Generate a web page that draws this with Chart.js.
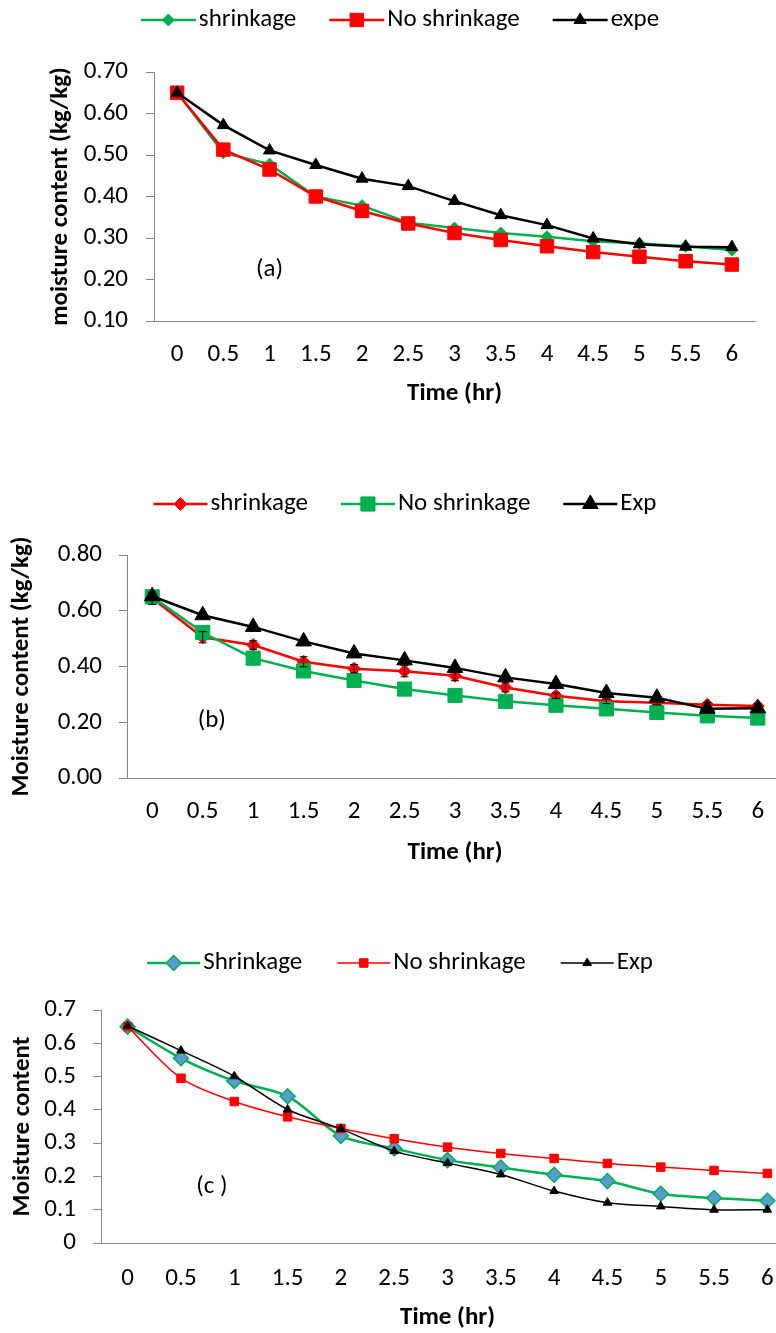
<!DOCTYPE html>
<html lang="en">
<head>
<meta charset="UTF-8">
<title>Moisture content vs drying time</title>
<script src="https://cdn.jsdelivr.net/npm/chart.js@4.4.1/dist/chart.umd.min.js"></script>
<style>
  html, body { margin: 0; padding: 0; background: #fff; overflow: hidden; }
  #wrap { position: relative; width: 776px; height: 1333px; overflow: hidden; }
  canvas { position: absolute; left: 0; }
</style>
</head>
<body>
<div id="wrap">
  <canvas id="chartA" width="820" height="420" style="top:0px"></canvas>
  <canvas id="chartB" width="820" height="410" style="top:470px"></canvas>
  <canvas id="chartC" width="820" height="403" style="top:930px"></canvas>
</div>
<script>
// time axis (hr)
const times = ['0', '0.5', '1', '1.5', '2', '2.5', '3', '3.5', '4', '4.5', '5', '5.5', '6'];

// (a)
const aShrink   = [0.650, 0.505, 0.478, 0.400, 0.378, 0.337, 0.324, 0.312, 0.303, 0.292, 0.287, 0.280, 0.271];
const aNoShrink = [0.650, 0.513, 0.465, 0.400, 0.365, 0.335, 0.312, 0.295, 0.280, 0.266, 0.255, 0.244, 0.236];
const aExp      = [0.650, 0.572, 0.511, 0.476, 0.443, 0.425, 0.389, 0.355, 0.331, 0.299, 0.285, 0.279, 0.278];

// (b)
const bShrink    = [0.645, 0.505, 0.477, 0.417, 0.392, 0.383, 0.367, 0.325, 0.295, 0.275, 0.270, 0.263, 0.258];
const bShrinkErr = [0.022, 0.020, 0.015, 0.018, 0.015, 0.020, 0.018, 0.016, 0.010, 0.008, 0.008, 0.008, 0.008];
const bNoShrink  = [0.650, 0.522, 0.430, 0.384, 0.350, 0.319, 0.296, 0.275, 0.261, 0.248, 0.235, 0.223, 0.215];
const bExp       = [0.652, 0.584, 0.542, 0.490, 0.447, 0.422, 0.395, 0.361, 0.337, 0.305, 0.288, 0.248, 0.250];

// (c)
const cShrink   = [0.650, 0.555, 0.487, 0.441, 0.322, 0.284, 0.249, 0.227, 0.205, 0.186, 0.148, 0.135, 0.127];
const cNoShrink = [0.650, 0.495, 0.425, 0.379, 0.344, 0.313, 0.288, 0.269, 0.254, 0.239, 0.228, 0.218, 0.209];
const cExp      = [0.652, 0.578, 0.501, 0.401, 0.343, 0.276, 0.240, 0.206, 0.156, 0.121, 0.110, 0.100, 0.100];

const TXT = 'Carlito, Calibri, "Liberation Sans Narrow", "Liberation Sans", sans-serif';
const FS = 25;
const GREEN = '#00B050', RED = '#FF0000', BLACK = '#000000', BLUE = '#5B9BD5', AXIS = '#868686';

// error bars, panel tag and a spreadsheet-style legend (line + marker + label)
const extras = {
  id: 'extras',
  afterDatasetsDraw(chart, args, opts) {
    if (!opts.errors) return;
    const ctx = chart.ctx;
    const ys = chart.scales.y;
    const meta = chart.getDatasetMeta(opts.errors.dataset);
    const vals = chart.data.datasets[opts.errors.dataset].data;
    ctx.save();
    ctx.strokeStyle = '#000';
    ctx.lineWidth = 1;
    meta.data.forEach((pt, i) => {
      const e = opts.errors.values[i];
      const y1 = ys.getPixelForValue(vals[i] - e), y2 = ys.getPixelForValue(vals[i] + e);
      ctx.beginPath();
      ctx.moveTo(pt.x, y1); ctx.lineTo(pt.x, y2);
      ctx.moveTo(pt.x - 4, y1); ctx.lineTo(pt.x + 4, y1);
      ctx.moveTo(pt.x - 4, y2); ctx.lineTo(pt.x + 4, y2);
      ctx.stroke();
    });
    ctx.restore();
  },
  afterDraw(chart, args, opts) {
    const ctx = chart.ctx;
    const xs = chart.scales.x, ys = chart.scales.y;
    ctx.save();
    if (opts.tag) {
      ctx.font = FS + 'px ' + TXT;
      ctx.fillStyle = '#000';
      ctx.textAlign = 'center';
      ctx.textBaseline = 'middle';
      ctx.fillText(opts.tag.text, xs.getPixelForValue(opts.tag.x), ys.getPixelForValue(opts.tag.y));
    }
    const lg = opts.legend;
    ctx.font = FS + 'px ' + TXT;
    const sets = chart.data.datasets;
    const widths = sets.map(ds => ctx.measureText(ds.label).width);
    const total = widths.reduce((s, w) => s + w + lg.lineLen + lg.gap, 0) + lg.itemGap * (sets.length - 1);
    let x = lg.cx - total / 2;
    sets.forEach((ds, i) => {
      ctx.strokeStyle = ds.borderColor;
      ctx.lineWidth = ds.borderWidth;
      ctx.beginPath();
      ctx.moveTo(x, lg.y); ctx.lineTo(x + lg.lineLen, lg.y);
      ctx.stroke();
      ctx.fillStyle = ds.pointBackgroundColor;
      ctx.strokeStyle = ds.pointBorderColor;
      ctx.lineWidth = ds.pointBorderWidth;
      Chart.helpers.drawPoint(ctx, {pointStyle: ds.pointStyle, radius: ds.pointRadius, rotation: 0, borderWidth: ds.pointBorderWidth}, x + lg.lineLen / 2, lg.y);
      x += lg.lineLen + lg.gap;
      ctx.fillStyle = '#000';
      ctx.textAlign = 'left';
      ctx.textBaseline = 'middle';
      ctx.fillText(ds.label, x, lg.y);
      x += widths[i] + lg.itemGap;
    });
    ctx.restore();
  }
};

function series(label, data, color, style, radius, width, order, fill, borderW) {
  return {
    label, data, order,
    borderColor: color, borderWidth: width,
    pointStyle: style, pointRadius: radius, pointHoverRadius: radius,
    pointBackgroundColor: fill || color, pointBorderColor: color, pointBorderWidth: borderW || 1,
    tension: 0
  };
}

function makeChart(id, cfg) {
  return new Chart(document.getElementById(id), {
    type: 'line',
    data: { labels: times, datasets: cfg.datasets },
    options: {
      responsive: false,
      animation: false,
      events: [],
      layout: { padding: { left: 0, top: cfg.top, right: 820 - cfg.right, bottom: 0 } },
      plugins: { legend: { display: false }, tooltip: { enabled: false }, extras: cfg.extras },
      scales: {
        x: {
          offset: true,
          grid: { display: false, drawTicks: false },
          border: { display: true, color: AXIS, width: 1 },
          ticks: { color: '#000', font: { family: TXT, size: FS }, padding: cfg.xPad, maxRotation: 0, autoSkip: false },
          title: { display: true, text: 'Time (hr)', color: '#000', font: { family: TXT, size: FS, weight: 'bold' }, padding: { top: 0, bottom: cfg.xTitlePad } },
          afterFit(s) { s.height = cfg.height - cfg.bottom; }
        },
        y: {
          min: cfg.yMin, max: cfg.yMax,
          ticks: { stepSize: cfg.step, callback: cfg.fmt, color: '#000', font: { family: TXT, size: FS }, padding: cfg.yPad },
          grid: { drawOnChartArea: false, color: AXIS, tickLength: 8 },
          border: { color: AXIS, width: 1 },
          title: { display: true, text: cfg.yTitle, color: '#000', font: { family: TXT, size: FS, weight: 'bold' }, padding: { top: cfg.yTitlePad, bottom: 0 } },
          afterFit(s) { s.width = cfg.left; }
        }
      }
    },
    plugins: [extras]
  });
}

makeChart('chartA', {
  height: 420, top: 72, bottom: 321, left: 154, right: 755,
  yMin: 0.1, yMax: 0.7, step: 0.1, fmt: v => v.toFixed(2),
  yTitle: 'moisture content (kg/kg)', yTitlePad: 46, yPad: 18, xPad: 19, xTitlePad: 11,
  datasets: [
    series('shrinkage', aShrink, GREEN, 'rectRot', 6, 2.5, 2),
    series('No shrinkage', aNoShrink, RED, 'rect', 9.5, 2.5, 1),
    series('expe', aExp, BLACK, 'triangle', 7, 2.5, 0)
  ],
  extras: {
    tag: { text: '(a)', x: 2, y: 0.223 },
    legend: { y: 20, cx: 400, lineLen: 55, gap: 3, itemGap: 33 }
  }
});

makeChart('chartB', {
  height: 410, top: 85, bottom: 308, left: 127, right: 783,
  yMin: 0, yMax: 0.8, step: 0.2, fmt: v => v.toFixed(2),
  yTitle: 'Moisture content (kg/kg)', yTitlePad: 7, yPad: 17, xPad: 19, xTitlePad: 12,
  datasets: [
    series('shrinkage', bShrink, RED, 'rectRot', 6.5, 2.5, 2),
    series('No shrinkage', bNoShrink, GREEN, 'rect', 10, 2.5, 1),
    series('Exp', bExp, BLACK, 'triangle', 9, 2.5, 0)
  ],
  extras: {
    tag: { text: '(b)', x: 1.18, y: 0.204 },
    errors: { dataset: 0, values: bShrinkErr },
    legend: { y: 34, cx: 405, lineLen: 54, gap: 3, itemGap: 33 }
  }
});

makeChart('chartC', {
  height: 403, top: 80, bottom: 313, left: 101, right: 794,
  yMin: 0, yMax: 0.7, step: 0.1, fmt: v => String(Math.round(v * 10) / 10),
  yTitle: 'Moisture content', yTitlePad: 8, yPad: 17, xPad: 21, xTitlePad: 0,
  datasets: [
    Object.assign(series('Shrinkage', cShrink, GREEN, 'rectRot', 7.5, 2.5, 2, BLUE, 1.5), { tension: 0.3 }),
    Object.assign(series('No shrinkage', cNoShrink, RED, 'rect', 6, 1.5, 1), { tension: 0.3 }),
    Object.assign(series('Exp', cExp, BLACK, 'triangle', 5, 1.5, 0), { tension: 0.3 })
  ],
  extras: {
    tag: { text: '(c )', x: 1.58, y: 0.17 },
    legend: { y: 33, cx: 400, lineLen: 53, gap: 3, itemGap: 35 }
  }
});
</script>
</body>
</html>
